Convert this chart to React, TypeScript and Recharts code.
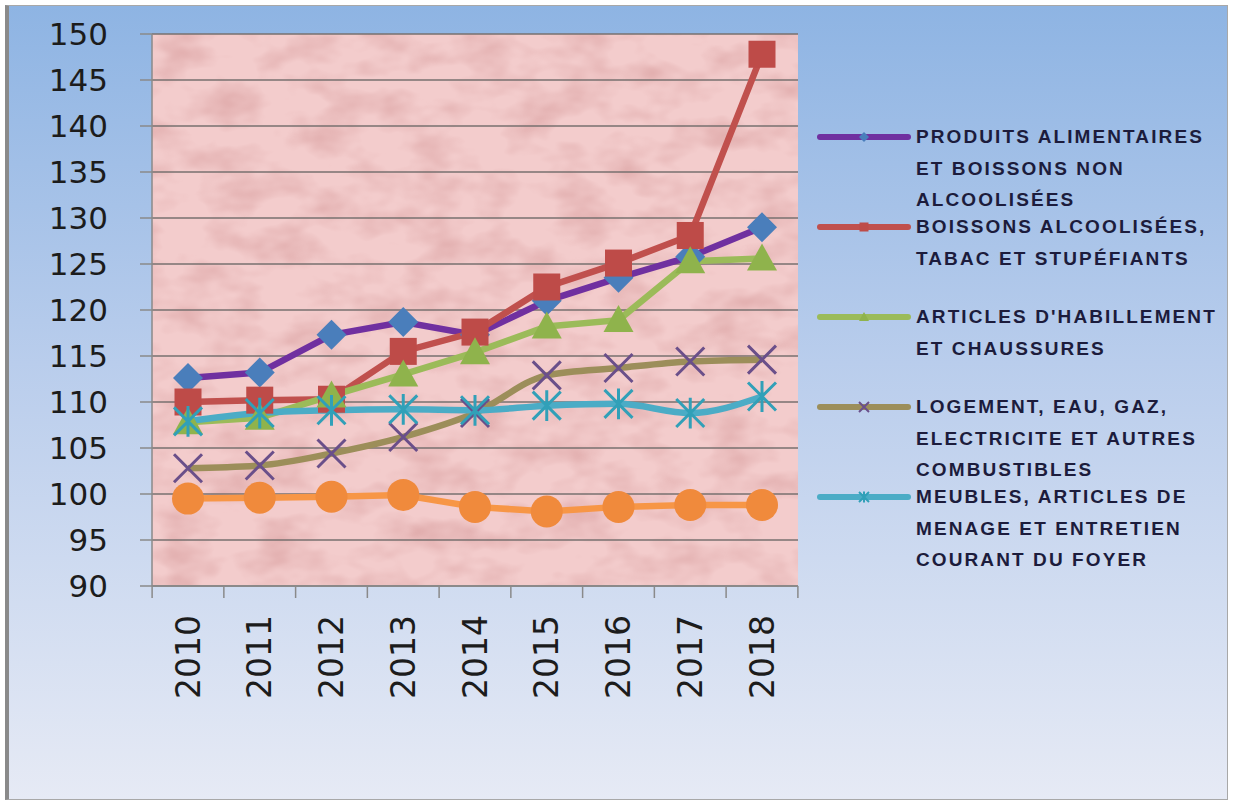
import { LineChart, Line, XAxis, YAxis, CartesianGrid, Legend } from "recharts";

const years = ["2010", "2011", "2012", "2013", "2014", "2015", "2016", "2017", "2018"];
const produits = [112.6, 113.2, 117.3, 118.7, 117.3, 121.0, 123.5, 125.8, 129.0];
const boissons = [110.0, 110.2, 110.3, 115.5, 117.6, 122.5, 125.1, 128.1, 147.8];
const articles = [107.8, 108.3, 110.7, 113.0, 115.4, 118.2, 118.9, 125.3, 125.6];
const logement = [102.8, 103.1, 104.4, 106.2, 108.8, 112.9, 113.7, 114.4, 114.6];
const meubles = [107.9, 108.8, 109.1, 109.2, 109.1, 109.6, 109.8, 108.8, 110.6];
const sixieme = [99.5, 99.6, 99.7, 99.9, 98.6, 98.1, 98.6, 98.8, 98.8];
const yTicks = [90, 95, 100, 105, 110, 115, 120, 125, 130, 135, 140, 145, 150];

const names = {
  produits: "PRODUITS ALIMENTAIRES\nET BOISSONS NON\nALCOOLISÉES",
  boissons: "BOISSONS ALCOOLISÉES,\nTABAC ET STUPÉFIANTS",
  articles: "ARTICLES D'HABILLEMENT\nET CHAUSSURES",
  logement: "LOGEMENT, EAU, GAZ,\nELECTRICITE ET AUTRES\nCOMBUSTIBLES",
  meubles: "MEUBLES, ARTICLES DE\nMENAGE ET ENTRETIEN\nCOURANT DU FOYER",
  sixieme: "Série 6",
};

const data = years.map((year, i) => ({
  year,
  produits: produits[i],
  boissons: boissons[i],
  articles: articles[i],
  logement: logement[i],
  meubles: meubles[i],
  sixieme: sixieme[i],
}));

const X_TICK_MARGIN = 29;

// marker shapes
function marker(kind: string, cx: number, cy: number, s: number, color: string, key?: string) {
  const h = s / 2;
  if (kind === "diamond")
    return <path key={key} d={`M${cx},${cy - h} L${cx + h},${cy} L${cx},${cy + h} L${cx - h},${cy} Z`} fill={color} />;
  if (kind === "square")
    return <rect key={key} x={cx - h * 0.9} y={cy - h * 0.9} width={s * 0.9} height={s * 0.9} fill={color} />;
  if (kind === "triangle")
    return <path key={key} d={`M${cx},${cy - h} L${cx + h},${cy + h * 0.8} L${cx - h},${cy + h * 0.8} Z`} fill={color} />;
  if (kind === "circle") return <circle key={key} cx={cx} cy={cy} r={h} fill={color} />;
  if (kind === "cross")
    return (
      <path key={key} d={`M${cx - h},${cy - h} L${cx + h},${cy + h} M${cx + h},${cy - h} L${cx - h},${cy + h}`}
        stroke={color} strokeWidth={s > 15 ? 3 : 2} fill="none" />
    );
  return (
    <path key={key}
      d={`M${cx - h},${cy - h} L${cx + h},${cy + h} M${cx + h},${cy - h} L${cx - h},${cy + h} M${cx},${cy - h * 1.1} L${cx},${cy + h * 1.1}`}
      stroke={color} strokeWidth={s > 15 ? 3 : 2} fill="none" />
  );
}

const series = [
  { key: "produits", line: "#7030a0", mark: "#4a7ebb", kind: "diamond", size: 30, type: "linear" },
  { key: "boissons", line: "#c0504d", mark: "#be4b48", kind: "square", size: 30, type: "linear" },
  { key: "articles", line: "#9bbb59", mark: "#8fb34c", kind: "triangle", size: 30, type: "linear" },
  { key: "logement", line: "#9c8e5a", mark: "#6a4f8a", kind: "cross", size: 28, type: "monotone" },
  { key: "meubles", line: "#4bacc6", mark: "#31a0b8", kind: "asterisk", size: 28, type: "monotone" },
  { key: "sixieme", line: "#f79646", mark: "#f08a3c", kind: "circle", size: 32, type: "linear" },
];

const YTick = (props: any) => {
  const { x, y, payload } = props;
  return (
    <text x={x} y={y} textAnchor="end" dominantBaseline="central" fontFamily="DejaVu Sans" fontSize={31} fill="#1c1c1c">
      {payload.value}
    </text>
  );
};

// year label, plus the tick marks that sit between the categories
const XTick = (props: any) => {
  const { x, y, payload, index, visibleTicksCount, width } = props;
  const band = (Number(width) || 646) / (visibleTicksCount || years.length);
  const top = y - X_TICK_MARGIN;
  const last = index === visibleTicksCount - 1;
  return (
    <g>
      <line x1={x - band / 2} y1={top} x2={x - band / 2} y2={top + 12} stroke="#8a8a8a" strokeWidth={1.5} />
      {last && <line x1={x + band / 2} y1={top} x2={x + band / 2} y2={top + 12} stroke="#8a8a8a" strokeWidth={1.5} />}
      <text x={x} y={y} transform={`rotate(-90, ${x}, ${y})`} textAnchor="end" dominantBaseline="central"
        fontFamily="DejaVu Sans" fontSize={33} fill="#1c1c1c">
        {payload.value}
      </text>
    </g>
  );
};

const LegendContent = (props: any) => {
  const items = (props.payload || []).filter((p: any) => p.type !== "none");
  return (
    <div>
      {items.map((p: any) => {
        const s = series.find((q) => q.key === p.dataKey)!;
        return (
          <div key={s.key} style={{ position: "relative", height: 90 }}>
            <svg width={95} height={32} style={{ position: "absolute", left: 5, top: 0 }}>
              <line x1={3} y1={16} x2={91} y2={16} stroke={s.line} strokeWidth={6} strokeLinecap="round" />
              {marker(s.kind, 47, 16, 10, s.mark)}
            </svg>
            <div style={{
              position: "absolute", left: 104, top: 0, whiteSpace: "pre-line",
              fontFamily: "Liberation Sans", fontWeight: "bold", fontSize: 19, letterSpacing: 2.1,
              lineHeight: "31.5px", color: "#1c1c3c",
            }}>
              {p.value}
            </div>
          </div>
        );
      })}
    </div>
  );
};

export default function App() {
  return (
    <div style={{ position: "absolute", left: 0, top: 0, width: 1235, height: 801, background: "#ffffff" }}>
      <div style={{
        position: "absolute", left: 5, top: 5, width: 1223, height: 795, boxSizing: "border-box",
        border: "1px solid #a8a8a8", borderLeft: "4px solid #8a8a8a",
        background: "linear-gradient(180deg, #8eb4e3 0%, #b9cdec 45%, #e6eaf5 100%)",
      }}>
        <div style={{ position: "absolute", left: 0, top: 0 }}>
          <LineChart width={1218} height={793} data={data} margin={{ top: 28, right: 429, left: 0, bottom: 63 }}>
            <defs>
              <filter id="mottle" x="0" y="0" width="100%" height="100%" colorInterpolationFilters="sRGB">
                <feTurbulence type="fractalNoise" baseFrequency="0.02 0.035" numOctaves={3} seed={4} />
                <feColorMatrix type="matrix" values="0 0 0 0 0.86  0 0 0 0 0.64  0 0 0 0 0.64  1.5 0 0 0 -0.62" />
              </filter>
              <pattern id="pinkTex" patternUnits="userSpaceOnUse" x={0} y={0} width={1300} height={800}>
                <rect width={1300} height={800} fill="#f3cccc" />
                <rect width={1300} height={800} fill="#000" filter="url(#mottle)" />
              </pattern>
            </defs>
            <CartesianGrid vertical={false} stroke="#77706f" strokeWidth={1.5} fill="url(#pinkTex)" fillOpacity={1} />
            <XAxis dataKey="year" height={150} tickSize={0} tickMargin={X_TICK_MARGIN}
              padding={{ left: 36, right: 36 }}
              axisLine={{ stroke: "#8a8a8a", strokeWidth: 1.5 }} tickLine={false} tick={<XTick />} interval={0} />
            <YAxis domain={[90, 150]} ticks={yTicks} width={143} tickSize={12} tickMargin={32}
              axisLine={{ stroke: "#8a8a8a", strokeWidth: 1.5 }} tickLine={{ stroke: "#8a8a8a", strokeWidth: 1.5 }}
              tick={<YTick />} interval={0} allowDataOverflow />
            <Legend layout="horizontal" verticalAlign="middle" content={<LegendContent />}
              itemSorter={(item: any) => series.findIndex((s) => s.key === item.dataKey)}
              wrapperStyle={{ left: 803, top: 115, width: 415 }} />
            {series.map((s) => (
              <Line key={s.key} type={s.type as any} dataKey={s.key} name={(names as any)[s.key]}
                stroke={s.line} strokeWidth={6.5} isAnimationActive={false}
                legendType={s.key === "sixieme" ? "none" : "line"}
                dot={(d: any) => marker(s.kind, d.cx, d.cy, s.size, s.mark, `${s.key}-${d.index}`)}
                activeDot={false} />
            ))}
          </LineChart>
        </div>
      </div>
    </div>
  );
}
